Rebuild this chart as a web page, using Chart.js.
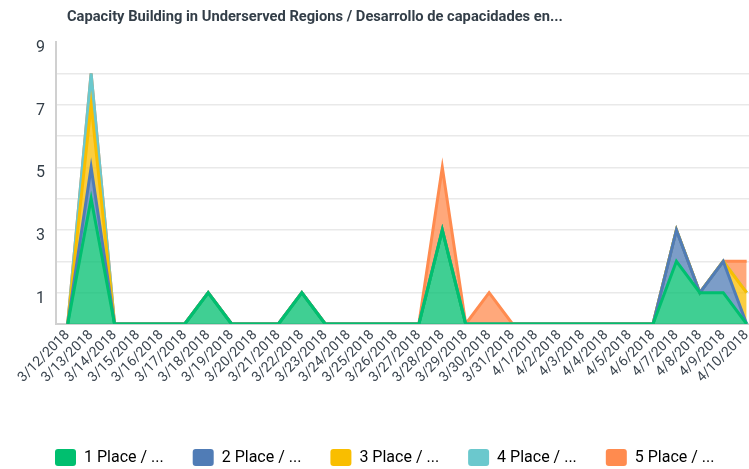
<!DOCTYPE html>
<html>
<head>
<meta charset="utf-8">
<script src="https://cdn.jsdelivr.net/npm/chart.js@4"></script>
<style>
  html, body { margin: 0; padding: 0; background: #fff; }
  #wrap { width: 749px; height: 469px; position: relative; }
</style>
</head>
<body>
<div id="wrap"><canvas id="chart"></canvas></div>
<script>
const chartTitle = 'Capacity Building in Underserved Regions / Desarrollo de capacidades en...';

const dates = ['3/12/2018', '3/13/2018', '3/14/2018', '3/15/2018', '3/16/2018', '3/17/2018',
  '3/18/2018', '3/19/2018', '3/20/2018', '3/21/2018', '3/22/2018', '3/23/2018', '3/24/2018',
  '3/25/2018', '3/26/2018', '3/27/2018', '3/28/2018', '3/29/2018', '3/30/2018', '3/31/2018',
  '4/1/2018', '4/2/2018', '4/3/2018', '4/4/2018', '4/5/2018', '4/6/2018', '4/7/2018',
  '4/8/2018', '4/9/2018', '4/10/2018'];

const seriesNames = ['1 Place / ...', '2 Place / ...', '3 Place / ...', '4 Place / ...', '5 Place / ...'];
const seriesColors = ['#00BF6F', '#507CB6', '#F9BE00', '#6BC8CD', '#FF8B4F'];

const place1 = [0, 4, 0, 0, 0, 0, 1, 0, 0, 0, 1, 0, 0, 0, 0, 0, 3, 0, 0, 0, 0, 0, 0, 0, 0, 0, 2, 1, 1, 0];
const place2 = [0, 1, 0, 0, 0, 0, 0, 0, 0, 0, 0, 0, 0, 0, 0, 0, 0, 0, 0, 0, 0, 0, 0, 0, 0, 0, 1, 0, 1, 0];
const place3 = [0, 2, 0, 0, 0, 0, 0, 0, 0, 0, 0, 0, 0, 0, 0, 0, 0, 0, 0, 0, 0, 0, 0, 0, 0, 0, 0, 0, 0, 1];
const place4 = [0, 1, 0, 0, 0, 0, 0, 0, 0, 0, 0, 0, 0, 0, 0, 0, 0, 0, 0, 0, 0, 0, 0, 0, 0, 0, 0, 0, 0, 0];
const place5 = [0, 0, 0, 0, 0, 0, 0, 0, 0, 0, 0, 0, 0, 0, 0, 0, 2, 0, 1, 0, 0, 0, 0, 0, 0, 0, 0, 0, 0, 1];

const yLabels = [1, 3, 5, 7, 9];

const allSeries = [place1, place2, place3, place4, place5];

function fade(hex, a) {
  const n = parseInt(hex.slice(1), 16);
  return 'rgba(' + (n >> 16) + ',' + ((n >> 8) & 255) + ',' + (n & 255) + ',' + a + ')';
}

Chart.defaults.font.family = 'Roboto, "Open Sans", sans-serif';

const titlePlugin = {
  id: 'leftTitle',
  afterDraw(chart) {
    const ctx = chart.ctx;
    ctx.save();
    ctx.font = 'bold 14.7px Roboto, sans-serif';
    ctx.fillStyle = '#333e48';
    ctx.textBaseline = 'middle';
    ctx.fillText(chartTitle, 67, 17);
    ctx.restore();
  }
};

new Chart(document.getElementById('chart'), {
  type: 'line',
  data: {
    datasets: seriesNames.map((name, i) => ({
      label: name,
      data: allSeries[i].map((v, j) => ({ x: j, y: v })),
      borderColor: seriesColors[i],
      backgroundColor: fade(seriesColors[i], 0.75),
      fill: i === 0 ? 'origin' : '-1',
      borderWidth: 3,
      pointRadius: 0,
      tension: 0
    }))
  },
  options: {
    responsive: true,
    maintainAspectRatio: false,
    animation: false,
    layout: {
      padding: { top: 42, left: 26, right: 0, bottom: -7 }
    },
    scales: {
      x: {
        type: 'linear',
        min: -0.5,
        max: dates.length - 0.9,
        afterBuildTicks: s => { s.ticks = dates.map((d, i) => ({ value: i })); },
        afterFit: s => { s.height = 96; s.paddingRight = 0; },
        ticks: {
          callback: v => dates[v],
          minRotation: 45,
          maxRotation: 45,
          autoSkip: false,
          padding: 3,
          color: '#3c4650',
          font: { size: 14 }
        },
        grid: { display: false, drawTicks: false },
        border: { display: true, color: '#d0d0d0', width: 2 }
      },
      y: {
        stacked: true,
        min: 0,
        max: 9,
        afterFit: s => { s.width = 30; },
        ticks: {
          stepSize: 1,
          autoSkip: false,
          padding: 11,
          color: '#333e48',
          font: { size: 16, lineHeight: 0.75 },
          callback: v => yLabels.includes(v) ? ['', String(v)] : ''
        },
        grid: {
          drawTicks: false,
          lineWidth: 1.5,
          color: c => (c.tick && c.tick.value === 9) ? 'rgba(0,0,0,0)' : '#e9e9e9'
        },
        border: { display: true, color: '#d0d0d0', width: 2 }
      }
    },
    plugins: {
      title: { display: false },
      tooltip: { enabled: false },
      legend: {
        position: 'bottom',
        align: 'start',
        labels: {
          boxWidth: 21,
          boxHeight: 17,
          padding: 29,
          useBorderRadius: true,
          borderRadius: 3,
          color: '#666',
          font: { size: 16 },
          generateLabels: chart => chart.data.datasets.map((ds, i) => ({
            text: ds.label,
            fillStyle: ds.borderColor,
            strokeStyle: ds.borderColor,
            lineWidth: 0,
            hidden: false,
            borderRadius: 3,
            datasetIndex: i
          }))
        }
      }
    }
  },
  plugins: [titlePlugin]
});
</script>
</body>
</html>
